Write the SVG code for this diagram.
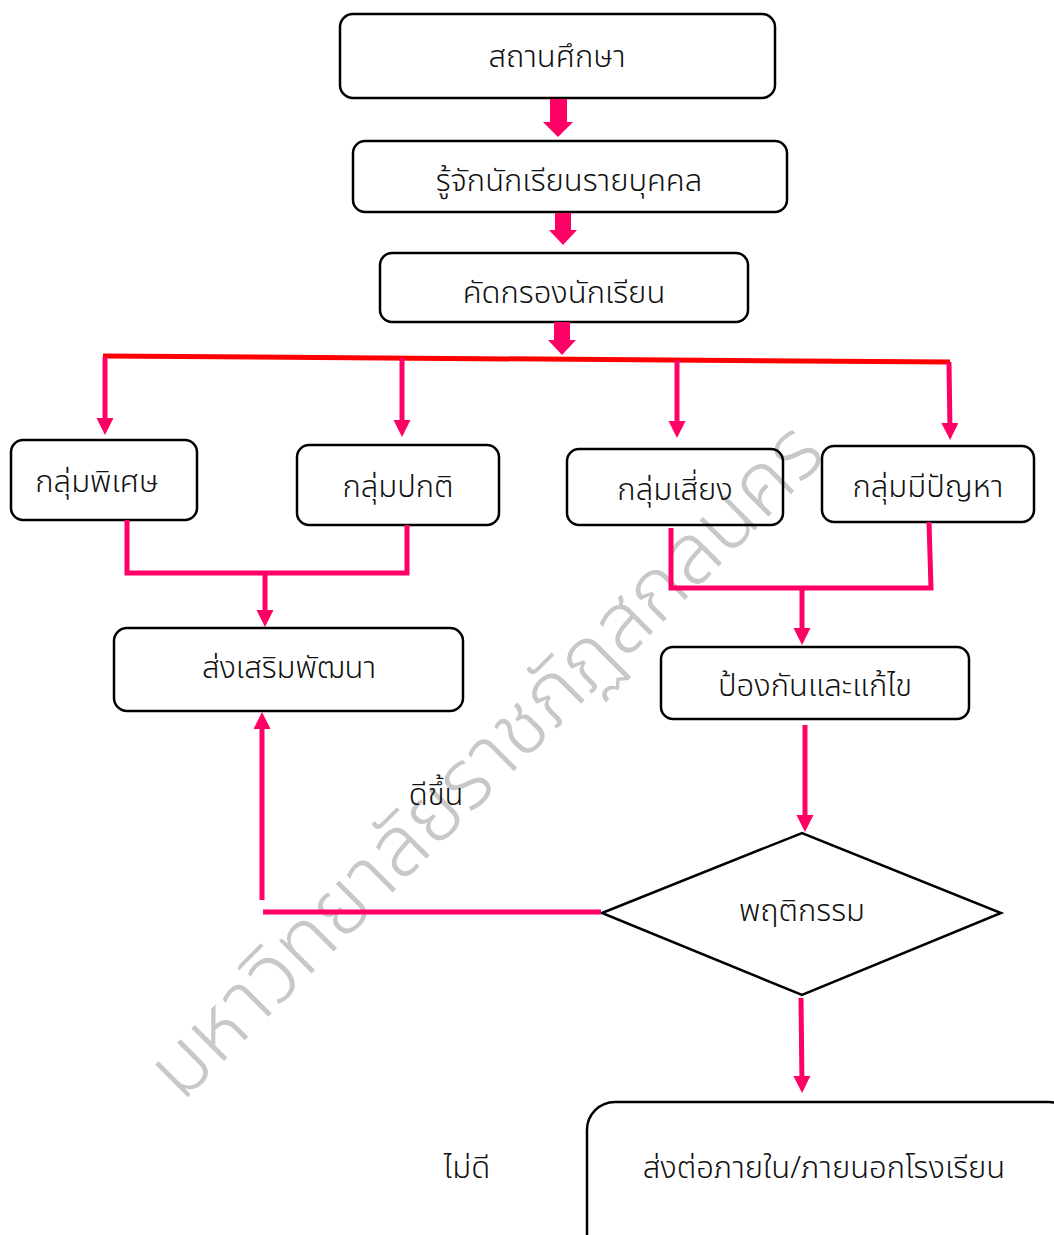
<svg xmlns="http://www.w3.org/2000/svg" width="1054" height="1235" viewBox="0 0 1054 1235">
<style>
.box{fill:none;stroke:#000;stroke-width:2.5}
.t{font-family:"Noto Sans Thai","Noto Sans","DejaVu Sans",sans-serif;font-size:31px;font-weight:300;fill:#111;text-anchor:middle}
.c{fill:none;stroke:#ff0066;stroke-width:5}
.r{fill:none;stroke:#ff0000;stroke-width:5}
.blk{fill:#ff0066}
.wm{font-family:"Noto Sans Thai","Noto Sans",sans-serif;font-size:84px;font-weight:300;fill:#c8c8c8;text-anchor:middle}
</style>
<defs>
<marker id="ah" markerUnits="userSpaceOnUse" markerWidth="18" markerHeight="18" viewBox="0 -9 18 18" refX="9" refY="0" orient="auto">
<path d="M0,-8.5 L17,0 L0,8.5 z" fill="#ff0066"/>
</marker>
</defs>
<rect width="1054" height="1235" fill="#fff"/>
<g id="watermark"><text class="wm" transform="translate(505,780) rotate(-45)">มหาวิทยาลัยราชภัฏสกลนคร</text></g>
<g id="n1"><rect class="box" x="340" y="14" width="435" height="84" rx="13"/><text class="t" x="557" y="67">สถานศึกษา</text></g>
<g id="n2"><rect class="box" x="353" y="141" width="434" height="71" rx="12"/><text class="t" x="569" y="191">รู้จักนักเรียนรายบุคคล</text></g>
<g id="n3"><rect class="box" x="380" y="253" width="368" height="69" rx="12"/><text class="t" x="564" y="303">คัดกรองนักเรียน</text></g>
<g id="n4"><rect class="box" x="11" y="440" width="186" height="80" rx="12"/><text class="t" x="97" y="492">กลุ่มพิเศษ</text></g>
<g id="n5"><rect class="box" x="297" y="445" width="202" height="80" rx="12"/><text class="t" x="398" y="497">กลุ่มปกติ</text></g>
<g id="n6"><rect class="box" x="567" y="449" width="216" height="76" rx="12"/><text class="t" x="675" y="500">กลุ่มเสี่ยง</text></g>
<g id="n7"><rect class="box" x="822" y="446" width="212" height="76" rx="12"/><text class="t" x="928" y="497">กลุ่มมีปัญหา</text></g>
<g id="n8"><rect class="box" x="114" y="628" width="349" height="83" rx="13"/><text class="t" x="289" y="678">ส่งเสริมพัฒนา</text></g>
<g id="n9"><rect class="box" x="661" y="647" width="308" height="72" rx="12"/><text class="t" x="815" y="696">ป้องกันและแก้ไข</text></g>
<g id="n10"><polygon class="box" points="602,913 802,833 1001,913 802,995"/><text class="t" x="802" y="921">พฤติกรรม</text></g>
<g id="n11"><rect class="box" x="587" y="1102" width="490" height="160" rx="28"/><text class="t" x="824" y="1178">ส่งต่อภายใน/ภายนอกโรงเรียน</text></g>
<g id="labels"><text class="t" x="436" y="805">ดีขึ้น</text><text class="t" x="467" y="1178">ไม่ดี</text></g>
<g id="connectors">
<polygon class="blk" points="550,99 567,99 567,122 573,122 558,137 543,122 550,122"/>
<polygon class="blk" points="555,213 571,213 571,230 577,230 563,245 549,230 555,230"/>
<polygon class="blk" points="554,322 570,322 570,340 576,340 562,355 548,340 554,340"/>
<path class="r" d="M103,356 L950,362"/>
<path class="c" d="M105,357 L105,427" marker-end="url(#ah)"/>
<path class="c" d="M402,358 L402,429" marker-end="url(#ah)"/>
<path class="c" d="M677,360 L677,430" marker-end="url(#ah)"/>
<path class="c" d="M949,362 L950,432" marker-end="url(#ah)"/>
<path class="c" d="M127,520 L127,573 L407,573 L407,525"/>
<path class="c" d="M265,573 L265,619" marker-end="url(#ah)"/>
<path class="c" d="M671,528 L671,588 L931,588 L929,522"/>
<path class="c" d="M802,590 L802,637" marker-end="url(#ah)"/>
<path class="c" d="M805,725 L805,824" marker-end="url(#ah)"/>
<path class="c" d="M801,998 L802,1085" marker-end="url(#ah)"/>
<path class="c" d="M262,900 L262,720" marker-end="url(#ah)"/>
<path class="c" d="M263,912 L601,912"/>
</g>
</svg>
